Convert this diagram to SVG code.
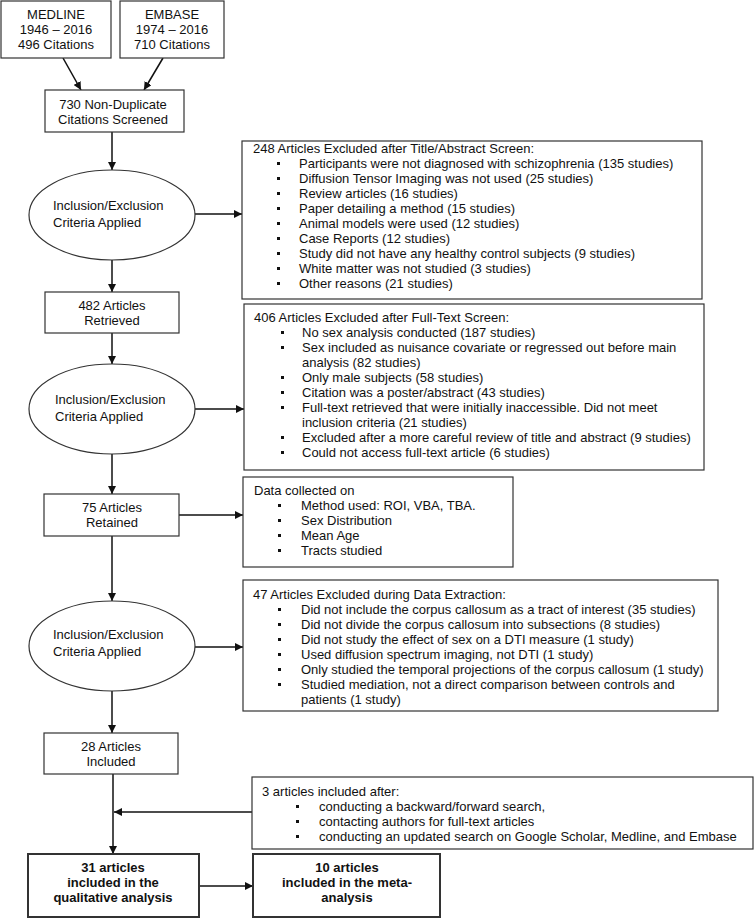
<svg xmlns="http://www.w3.org/2000/svg" width="755" height="918" viewBox="0 0 755 918">
<defs>
<marker id="ah" viewBox="0 0 10 10" refX="10" refY="5" markerWidth="8" markerHeight="8" markerUnits="userSpaceOnUse" orient="auto">
<path d="M0,0 L10,5 L0,10 z" fill="#111"/>
</marker>
<style>
text{font-family:"Liberation Sans",Arial,sans-serif;font-size:13px;fill:#111}
.c{text-anchor:middle}
.b{font-weight:bold}
.box{fill:#fff;stroke:#333;stroke-width:1.2}
.thick{fill:#fff;stroke:#333;stroke-width:2}
.ell{fill:#fff;stroke:#333;stroke-width:1.2}
.con line{stroke:#111;stroke-width:1.5;marker-end:url(#ah)}
.bul{fill:#111}
</style>
</defs>
<rect width="755" height="918" fill="#fff"/>

<g class="con">
<line x1="63" y1="58" x2="81" y2="90"/>
<line x1="163" y1="58" x2="144" y2="90"/>
<line x1="112" y1="132" x2="112" y2="170"/>
<line x1="195" y1="214" x2="242" y2="214"/>
<line x1="112" y1="260" x2="112" y2="292"/>
<line x1="112" y1="333" x2="112" y2="364"/>
<line x1="195" y1="409" x2="244" y2="409"/>
<line x1="112" y1="454" x2="112" y2="494"/>
<line x1="179" y1="515" x2="243" y2="515"/>
<line x1="112" y1="536" x2="112" y2="601"/>
<line x1="195" y1="647" x2="243" y2="647"/>
<line x1="112" y1="691" x2="112" y2="733"/>
<line x1="113" y1="774" x2="113" y2="854"/>
<line x1="252" y1="812" x2="114" y2="812"/>
<line x1="199" y1="886" x2="253" y2="886"/>
</g>

<g id="medline">
<rect class="box" x="1" y="1" width="110" height="57"/>
<text class="c" x="56" y="19">MEDLINE</text>
<text class="c" x="56" y="34">1946 – 2016</text>
<text class="c" x="56" y="49">496 Citations</text>
</g>
<g id="embase">
<rect class="box" x="120" y="1" width="104" height="57"/>
<text class="c" x="172" y="19">EMBASE</text>
<text class="c" x="172" y="34">1974 – 2016</text>
<text class="c" x="172" y="49">710 Citations</text>
</g>
<g id="screened">
<rect class="box" x="45" y="90" width="139" height="42"/>
<text class="c" x="113" y="109">730 Non-Duplicate</text>
<text class="c" x="113" y="124">Citations Screened</text>
</g>
<g id="criteria1">
<ellipse class="ell" cx="112" cy="215" rx="83" ry="45"/>
<text x="53" y="210">Inclusion/Exclusion</text>
<text x="53" y="227">Criteria Applied</text>
</g>
<g id="excluded1">
<rect class="box" x="242" y="141" width="460" height="158"/>
<text x="253" y="153">248 Articles Excluded after Title/Abstract Screen:</text>
<g class="bul">
<rect x="277" y="162" width="3" height="3"/><rect x="277" y="177" width="3" height="3"/><rect x="277" y="192" width="3" height="3"/>
<rect x="277" y="207" width="3" height="3"/><rect x="277" y="222" width="3" height="3"/><rect x="277" y="237" width="3" height="3"/>
<rect x="277" y="252" width="3" height="3"/><rect x="277" y="267" width="3" height="3"/><rect x="277" y="282" width="3" height="3"/>
</g>
<text x="299" y="168">Participants were not diagnosed with schizophrenia (135 studies)</text>
<text x="299" y="183">Diffusion Tensor Imaging was not used (25 studies)</text>
<text x="299" y="198">Review articles (16 studies)</text>
<text x="299" y="213">Paper detailing a method (15 studies)</text>
<text x="299" y="228">Animal models were used (12 studies)</text>
<text x="299" y="243">Case Reports (12 studies)</text>
<text x="299" y="258">Study did not have any healthy control subjects (9 studies)</text>
<text x="299" y="273">White matter was not studied (3 studies)</text>
<text x="299" y="288">Other reasons (21 studies)</text>
</g>
<g id="retrieved">
<rect class="box" x="45" y="292" width="134" height="41"/>
<text class="c" x="112" y="310">482 Articles</text>
<text class="c" x="112" y="325">Retrieved</text>
</g>
<g id="criteria2">
<ellipse class="ell" cx="112" cy="409" rx="83" ry="45"/>
<text x="55" y="404">Inclusion/Exclusion</text>
<text x="55" y="421">Criteria Applied</text>
</g>
<g id="excluded2">
<rect class="box" x="244" y="304" width="460" height="166"/>
<text x="254" y="322">406 Articles Excluded after Full-Text Screen:</text>
<g class="bul">
<rect x="281" y="331" width="3" height="3"/><rect x="281" y="346" width="3" height="3"/><rect x="281" y="376" width="3" height="3"/>
<rect x="281" y="391" width="3" height="3"/><rect x="281" y="406" width="3" height="3"/><rect x="281" y="436" width="3" height="3"/>
<rect x="281" y="451" width="3" height="3"/>
</g>
<text x="302" y="337">No sex analysis conducted (187 studies)</text>
<text x="302" y="352">Sex included as nuisance covariate or regressed out before main</text>
<text x="302" y="367">analysis (82 studies)</text>
<text x="302" y="382">Only male subjects (58 studies)</text>
<text x="302" y="397">Citation was a poster/abstract (43 studies)</text>
<text x="302" y="412">Full-text retrieved that were initially inaccessible. Did not meet</text>
<text x="302" y="427">inclusion criteria (21 studies)</text>
<text x="302" y="442">Excluded after a more careful review of title and abstract (9 studies)</text>
<text x="302" y="457">Could not access full-text article (6 studies)</text>
</g>
<g id="retained">
<rect class="box" x="44" y="494" width="135" height="42"/>
<text class="c" x="112" y="512">75 Articles</text>
<text class="c" x="112" y="527">Retained</text>
</g>
<g id="datacollected">
<rect class="box" x="243" y="477" width="270" height="90"/>
<text x="254" y="495">Data collected on</text>
<g class="bul">
<rect x="278" y="504" width="3" height="3"/><rect x="278" y="519" width="3" height="3"/><rect x="278" y="534" width="3" height="3"/><rect x="278" y="549" width="3" height="3"/>
</g>
<text x="301" y="510">Method used: ROI, VBA, TBA.</text>
<text x="301" y="525">Sex Distribution</text>
<text x="301" y="540">Mean Age</text>
<text x="301" y="555">Tracts studied</text>
</g>
<g id="criteria3">
<ellipse class="ell" cx="112" cy="646" rx="83" ry="45"/>
<text x="53" y="639">Inclusion/Exclusion</text>
<text x="53" y="656">Criteria Applied</text>
</g>
<g id="excluded3">
<rect class="box" x="243" y="580" width="475" height="131"/>
<text x="253" y="599">47 Articles Excluded during Data Extraction:</text>
<g class="bul">
<rect x="278" y="608" width="3" height="3"/><rect x="278" y="623" width="3" height="3"/><rect x="278" y="638" width="3" height="3"/>
<rect x="278" y="653" width="3" height="3"/><rect x="278" y="668" width="3" height="3"/><rect x="278" y="683" width="3" height="3"/>
</g>
<text x="301" y="614">Did not include the corpus callosum as a tract of interest (35 studies)</text>
<text x="301" y="629">Did not divide the corpus callosum into subsections (8 studies)</text>
<text x="301" y="644">Did not study the effect of sex on a DTI measure (1 study)</text>
<text x="301" y="659">Used diffusion spectrum imaging, not DTI (1 study)</text>
<text x="301" y="674">Only studied the temporal projections of the corpus callosum (1 study)</text>
<text x="301" y="689">Studied mediation, not a direct comparison between controls and</text>
<text x="301" y="704">patients (1 study)</text>
</g>
<g id="included28">
<rect class="box" x="44" y="733" width="134" height="41"/>
<text class="c" x="111" y="751">28 Articles</text>
<text class="c" x="111" y="766">Included</text>
</g>
<g id="additional">
<rect class="box" x="252" y="777" width="501" height="72"/>
<text x="262" y="796">3 articles included after:</text>
<g class="bul">
<rect x="296" y="805" width="3" height="3"/><rect x="296" y="820" width="3" height="3"/><rect x="296" y="835" width="3" height="3"/>
</g>
<text x="319" y="811">conducting a backward/forward search,</text>
<text x="319" y="826">contacting authors for full-text articles</text>
<text x="319" y="841">conducting an updated search on Google Scholar, Medline, and Embase</text>
</g>
<g id="qualitative">
<rect class="thick" x="28" y="854" width="171" height="63"/>
<text class="c b" x="113" y="872">31 articles</text>
<text class="c b" x="113" y="887">included in the</text>
<text class="c b" x="113" y="902">qualitative analysis</text>
</g>
<g id="meta">
<rect class="thick" x="253" y="854" width="187" height="63"/>
<text class="c b" x="347" y="872">10 articles</text>
<text class="c b" x="347" y="887">included in the meta-</text>
<text class="c b" x="347" y="902">analysis</text>
</g>
</svg>
